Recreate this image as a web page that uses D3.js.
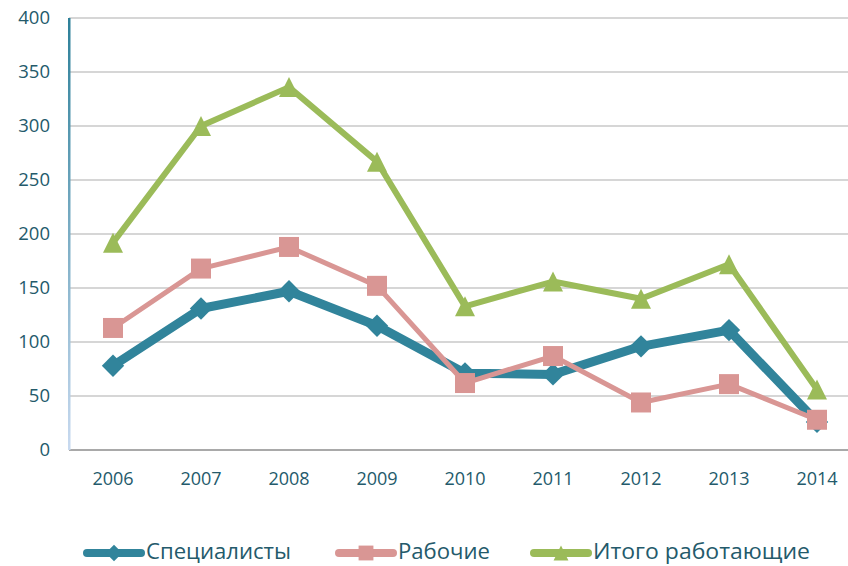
<!DOCTYPE html>
<html>
<head>
<meta charset="utf-8">
<script src="https://cdn.jsdelivr.net/npm/d3@7"></script>
<style>
  body { margin: 0; background: #fff; }
  #chart { width: 848px; height: 566px; }
  text { font-family: "Open Sans", "Noto Sans", sans-serif; fill: #245a6b; }
</style>
</head>
<body>
<div id="chart"></div>
<script>
// data
var years = ["2006", "2007", "2008", "2009", "2010", "2011", "2012", "2013", "2014"];
var specialists = [78, 131, 147, 115, 71, 70, 96, 111, 26];
var workers = [113, 168, 188, 152, 62, 87, 44, 61, 28];
var total = [192, 300, 336, 267, 133, 156, 140, 172, 56];
var yTicks = [0, 50, 100, 150, 200, 250, 300, 350, 400];
var seriesNames = ["Специалисты", "Рабочие", "Итого работающие"];

var W = 848, H = 566;
var margin = {top: 18, right: -13, bottom: 116, left: 69};
var width = W - margin.left - margin.right,
    height = H - margin.top - margin.bottom;

var svg = d3.select("#chart").append("svg")
  .attr("width", W).attr("height", H);

var defs = svg.append("defs");
var grad = defs.append("linearGradient").attr("id", "axisGrad")
  .attr("x1", 0).attr("y1", 0).attr("x2", 0).attr("y2", 1);
grad.append("stop").attr("offset", "0%").attr("stop-color", "#2d8099");
grad.append("stop").attr("offset", "100%").attr("stop-color", "#c9daf0");

// square-ish diamond and a triangle as tall as it is wide, like the original markers
var diamond = {draw: function(ctx, size) {
  var r = Math.sqrt(size / 2);
  ctx.moveTo(0, -r); ctx.lineTo(r, 0); ctx.lineTo(0, r); ctx.lineTo(-r, 0); ctx.closePath();
}};
var triangle = {draw: function(ctx, size) {
  var s = Math.sqrt(size * 2), h = s / 2;
  ctx.moveTo(0, -h); ctx.lineTo(h, h); ctx.lineTo(-h, h); ctx.closePath();
}};

var g = svg.append("g").attr("transform", "translate(" + margin.left + "," + margin.top + ")");

var x = d3.scalePoint().domain(years).range([44, width - 44 ]);
var y = d3.scaleLinear().domain([0, 400]).range([height, 0]);

// gridlines
g.selectAll(".grid").data(yTicks.slice(1)).enter().append("line")
  .attr("x1", 0).attr("x2", width)
  .attr("y1", d => y(d)).attr("y2", d => y(d))
  .attr("stroke", "#c8c8c8").attr("stroke-width", 1.5);

// x axis baseline
g.append("line").attr("x1", 0).attr("x2", width)
  .attr("y1", y(0)).attr("y2", y(0))
  .attr("stroke", "#8c8c8c").attr("stroke-width", 1.5);

// y axis line with gradient
g.append("rect").attr("x", -1).attr("y", 0).attr("width", 2.5).attr("height", height)
  .attr("fill", "url(#axisGrad)");

// tick labels
g.selectAll(".ylab").data(yTicks).enter().append("text")
  .attr("x", -19).attr("y", d => y(d)).attr("dy", "0.35em")
  .attr("text-anchor", "end").style("font-size", "18.5px")
  .text(d => d);

g.selectAll(".xlab").data(years).enter().append("text")
  .attr("x", d => x(d)).attr("y", height + 35)
  .attr("text-anchor", "middle").style("font-size", "18px")
  .text(d => d);

var series = [
  {name: seriesNames[0], values: specialists, color: "#31849b", width: 9, marker: diamond, size: 250, legW: 145},
  {name: seriesNames[1], values: workers, color: "#d99694", width: 5, marker: d3.symbolSquare, size: 400, legW: 92},
  {name: seriesNames[2], values: total, color: "#9bbb59", width: 6, marker: triangle, size: 200, legW: 217}
];

var line = d3.line().x((d, i) => x(years[i])).y(d => y(d));

series.forEach(function(s) {
  g.append("path").datum(s.values)
    .attr("d", line)
    .attr("fill", "none")
    .attr("stroke", s.color)
    .attr("stroke-width", s.width)
    .attr("stroke-linejoin", "round");
  g.selectAll(null).data(s.values).enter().append("path")
    .attr("transform", (d, i) => "translate(" + x(years[i]) + "," + y(d) + ")")
    .attr("d", d3.symbol().type(s.marker).size(s.size))
    .attr("fill", s.color);
});

// legend
var legendX = [85, 337, 532];
var legend = svg.append("g").attr("transform", "translate(0," + 553 + ")");
series.forEach(function(s, i) {
  var lg = legend.append("g").attr("transform", "translate(" + legendX[i] + ",0)");
  lg.append("line").attr("x1", 2).attr("x2", 56).attr("y1", 0).attr("y2", 0)
    .attr("stroke", s.color).attr("stroke-width", 8).attr("stroke-linecap", "round");
  lg.append("path").attr("transform", "translate(29,0)")
    .attr("d", d3.symbol().type(s.marker).size(s.size * 0.55))
    .attr("fill", s.color);
  lg.append("text").attr("x", 61).attr("y", 6)
    .style("font-size", "21px")
    .attr("textLength", s.legW).attr("lengthAdjust", "spacingAndGlyphs")
    .text(s.name);
});
</script>
</body>
</html>
